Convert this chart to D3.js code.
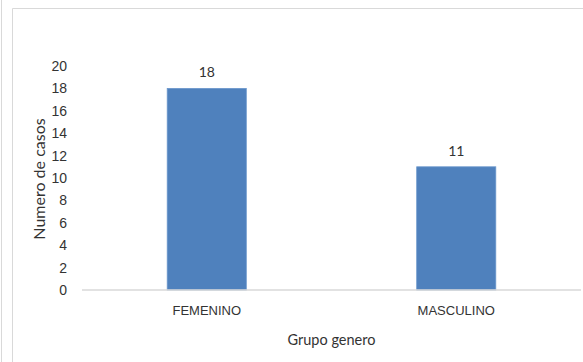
<!DOCTYPE html>
<html>
<head>
<meta charset="utf-8">
<script src="https://cdn.jsdelivr.net/npm/d3@7"></script>
<style>
    body { margin: 0; background: #fff; }
    svg { display: block; font-family: Lato, "Open Sans", sans-serif; }
    .y-axis .tick text { font-size: 14px; fill: #333; }
    .x-axis .tick text { font-size: 13px; fill: #333; }
</style>
</head>
<body>
<script>
// Chart data
const categories = ["FEMENINO", "MASCULINO"];
const values = [18, 11];
const yTicks = [0, 2, 4, 6, 8, 10, 12, 14, 16, 18, 20];

// Set chart dimensions
const width = 583;
const height = 362;
const margin = { top: 66, right: 2, bottom: 72, left: 82 };

const svg = d3.select("body")
    .append("svg")
    .attr("width", width)
    .attr("height", height);

// Outer frame lines
svg.append("line")
    .attr("x1", 1.5).attr("x2", 1.5)
    .attr("y1", 0).attr("y2", height)
    .attr("stroke", "#d9d9d9");

svg.append("line")
    .attr("x1", 12.5).attr("x2", 12.5)
    .attr("y1", 8.5).attr("y2", height)
    .attr("stroke", "#d9d9d9");

svg.append("line")
    .attr("x1", 12.5).attr("x2", width)
    .attr("y1", 8.5).attr("y2", 8.5)
    .attr("stroke", "#d9d9d9");

// Scales
const xScale = d3.scaleBand()
    .domain(categories)
    .range([margin.left, width - margin.right])
    .paddingInner(0.683)
    .paddingOuter(0.3415);

const yScale = d3.scaleLinear()
    .domain([0, 20])
    .range([height - margin.bottom, margin.top]);

// Y axis (labels only)
const leftAxis = d3.axisLeft(yScale)
    .tickValues(yTicks)
    .tickSize(0)
    .tickPadding(0);

svg.append("g")
    .attr("class", "y-axis")
    .attr("transform", `translate(${margin.left - 15}, 0)`)
    .call(leftAxis)
    .call(g => g.select(".domain").remove());

// Bars
svg.selectAll(".bar")
    .data(values)
    .join("rect")
    .attr("class", "bar")
    .attr("x", (d, i) => xScale(categories[i]))
    .attr("y", d => yScale(d))
    .attr("width", xScale.bandwidth())
    .attr("height", d => yScale(0) - yScale(d))
    .attr("fill", "#4f81bd")
    .attr("stroke", "#6b97cc")
    .attr("stroke-width", 0.8);

// Baseline
svg.append("line")
    .attr("x1", margin.left).attr("x2", width - margin.right)
    .attr("y1", yScale(0)).attr("y2", yScale(0))
    .attr("stroke", "#d9d9d9")
    .attr("stroke-width", 1.5);

// X axis (labels only)
const bottomAxis = d3.axisBottom(xScale)
    .tickSize(0)
    .tickPadding(16);

svg.append("g")
    .attr("class", "x-axis")
    .attr("transform", `translate(0, ${yScale(0)})`)
    .call(bottomAxis)
    .call(g => g.select(".domain").remove());

// Value labels
svg.selectAll(".value-label")
    .data(values)
    .join("text")
    .attr("class", "value-label")
    .attr("x", (d, i) => xScale(categories[i]) + xScale.bandwidth() / 2)
    .attr("y", d => yScale(d) - 11)
    .attr("text-anchor", "middle")
    .attr("font-size", 14)
    .attr("fill", "#333")
    .text(d => d);

// Axis titles
svg.append("text")
    .attr("x", (margin.left + width - margin.right) / 2)
    .attr("y", 345)
    .attr("text-anchor", "middle")
    .attr("font-size", 14.5)
    .attr("fill", "#333")
    .text("Grupo genero");

svg.append("text")
    .attr("transform", "rotate(-90)")
    .attr("x", -179)
    .attr("y", 45)
    .attr("text-anchor", "middle")
    .attr("font-size", 16)
    .attr("fill", "#333")
    .text("Numero de casos");
</script>
</body>
</html>
